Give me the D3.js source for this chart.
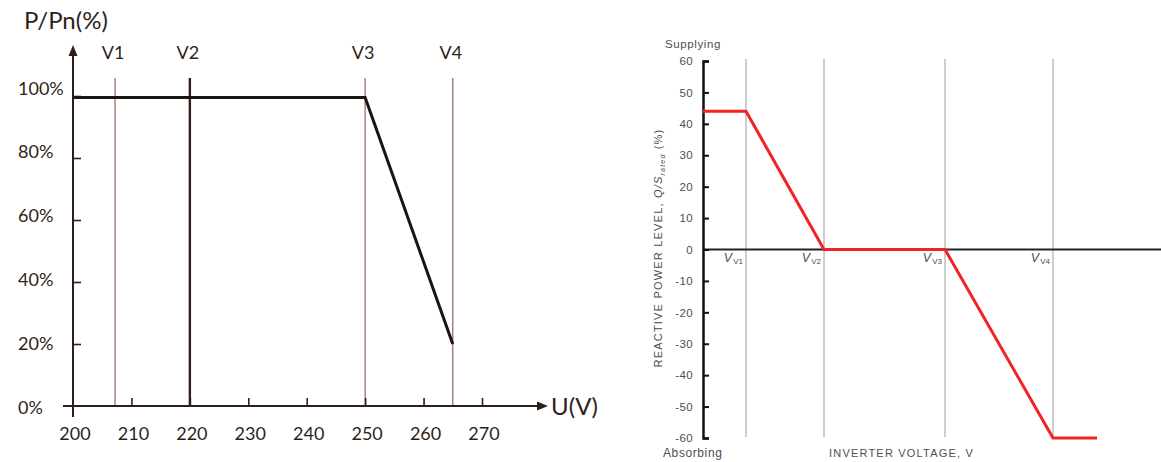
<!DOCTYPE html>
<html>
<head>
<meta charset="utf-8">
<script src="https://d3js.org/d3.v7.min.js"></script>
<style>
  body { margin: 0; background: #fff; }
  svg { display: block; }
</style>
</head>
<body>
<svg id="chart" width="1161" height="462"></svg>
<script>
	// left chart: active power vs voltage
	var leftTicksX = [210, 220, 230, 240, 250, 260, 270];
	var leftTickLabelsX = [200, 210, 220, 230, 240, 250, 260, 270];
	var leftTicksY = [20, 40, 60, 80, 100];
	var leftTickLabelsY = ["0%", "20%", "40%", "60%", "80%", "100%"];
	var leftMarkers = ["V1", "V2", "V3", "V4"];
	var leftMarkerVolts = [207.2, 220, 250, 265];
	var leftCurveU = [200, 250, 265];
	var leftCurveP = [99.5, 99.5, 20];

	// right chart: reactive power vs inverter voltage
	var rightTicksY = [60, 50, 40, 30, 20, 10, 0, -10, -20, -30, -40, -50, -60];
	var rightMarkers = ["V1", "V2", "V3", "V4"];
	var rightMarkerPos = [43, 121, 242, 350];
	var rightCurveV = [0, 43, 121, 242, 350, 394];
	var rightCurveQ = [44, 44, 0, 0, -60, -60];

	var svg = d3.select("#chart");
	var brown = "#2e1f1a";

	function draw_left(){
		var x = d3.scaleLinear().domain([200, 270]).range([73, 482]);
		var y = d3.scaleLinear().domain([0, 100]).range([406, 96]);
		// tick labels sit on a slightly wider spacing than the ticks
		var yLab = d3.scaleLinear().domain([0, 100]).range([407, 88]);
		var g = svg.append("g");
		var font = "Lato, 'Open Sans', sans-serif";

		// marker lines
		leftMarkerVolts.forEach(function(v, i){
			g.append("line").attr("x1", x(v)).attr("x2", x(v)).attr("y1", 78).attr("y2", y(0))
				.style("stroke", i == 1 ? "#33221c" : "#957269")
				.style("stroke-width", i == 1 ? 2.4 : 1.3);
			g.append("text").attr("x", x(v) - 2).attr("y", 59).attr("text-anchor", "middle")
				.style("font-family", font).style("font-size", "18px").style("fill", brown)
				.text(leftMarkers[i]);
		});

		// x ticks (upward)
		var xAxis = d3.axisBottom(x).tickValues(leftTicksX).tickSize(-8).tickFormat("");
		var gx = g.append("g").attr("transform", "translate(0," + y(0) + ")").call(xAxis);
		gx.select(".domain").remove();
		gx.selectAll("line").style("stroke", brown).style("stroke-width", 1.6);

		g.selectAll(".xlab").data(leftTickLabelsX).enter().append("text").attr("class", "xlab")
			.attr("x", function(d){ return x(d) + 2; }).attr("y", 440).attr("text-anchor", "middle")
			.style("font-family", font).style("font-size", "18px").style("fill", brown)
			.text(function(d){ return d; });

		// y ticks (to the right)
		var yAxis = d3.axisRight(y).tickValues(leftTicksY).tickSize(8).tickFormat("");
		var gy = g.append("g").attr("transform", "translate(" + x(200) + ",0)").call(yAxis);
		gy.select(".domain").remove();
		gy.selectAll("line").style("stroke", brown).style("stroke-width", 1.6);

		g.selectAll(".ylab").data(leftTickLabelsY).enter().append("text").attr("class", "ylab")
			.attr("x", 18).attr("y", function(d, i){ return yLab(i * 20) + 6.5; })
			.style("font-family", font).style("font-size", "18px").style("fill", brown)
			.text(function(d){ return d; });

		// axes with arrows
		g.append("line").attr("x1", x(200)).attr("x2", x(200)).attr("y1", 417).attr("y2", 52)
			.style("stroke", brown).style("stroke-width", 2);
		g.append("path").attr("d", "M" + x(200) + ",45 l-4.5,11 l9,0 z").style("fill", brown);
		g.append("line").attr("x1", 63).attr("x2", 541).attr("y1", y(0)).attr("y2", y(0))
			.style("stroke", brown).style("stroke-width", 2);
		g.append("path").attr("d", "M548," + y(0) + " l-11,-4.5 l0,9 z").style("fill", brown);

		g.append("text").attr("x", 551).attr("y", y(0) + 9)
			.style("font-family", font).style("font-size", "24px").style("fill", brown).text("U(V)");
		g.append("text").attr("x", 24).attr("y", 29)
			.style("font-family", font).style("font-size", "24px").style("fill", brown).text("P/Pn(%)");

		// curve
		var pts = leftCurveU.map(function(u, i){ return [x(u), y(leftCurveP[i])]; });
		g.append("path").attr("d", d3.line()(pts))
			.style("fill", "none").style("stroke", "#1c1411").style("stroke-width", 3);
	}

	function draw_right(){
		var x = d3.scaleLinear().domain([0, 458]).range([703, 1161]);
		var y = d3.scaleLinear().domain([-60, 60]).range([438, 61]);
		var g = svg.append("g");
		var font = "'Liberation Sans', Arial, sans-serif";
		var grey = "#4e4e4e";

		// marker lines
		rightMarkerPos.forEach(function(p, i){
			g.append("line").attr("x1", x(p)).attr("x2", x(p)).attr("y1", 59).attr("y2", 437)
				.style("stroke", "#c9c9c9").style("stroke-width", 1.8);
			var t = g.append("text").attr("x", x(p) - 3).attr("y", 262).attr("text-anchor", "end")
				.style("font-family", font).style("fill", grey);
			t.append("tspan").style("font-size", "12.5px").style("font-style", "italic").text("V");
			t.append("tspan").attr("dx", 1).attr("dy", 2).style("font-size", "8px").text("V" + (i + 1));
		});

		// zero line
		g.append("line").attr("x1", x(0)).attr("x2", 1161).attr("y1", y(0)).attr("y2", y(0))
			.style("stroke", "#222").style("stroke-width", 2);

		// y axis
		var yAxis = d3.axisLeft(y).tickValues(rightTicksY).tickSize(-6).tickPadding(10)
			.tickFormat(function(d){ return String(d); });
		var gy = g.append("g").attr("transform", "translate(" + x(0) + ",0)").call(yAxis);
		gy.select(".domain").style("stroke", "#111").style("stroke-width", 2.5);
		gy.selectAll(".tick line").style("stroke", "#111").style("stroke-width", 2);
		gy.selectAll("text").style("font-family", font).style("font-size", "11.5px").style("fill", grey)
			.style("letter-spacing", "0.4px");

		// curve
		var pts = rightCurveV.map(function(v, i){ return [x(v), y(rightCurveQ[i])]; });
		g.append("path").attr("d", d3.line()(pts))
			.style("fill", "none").style("stroke", "#f02424").style("stroke-width", 3);

		// labels
		g.append("text").attr("x", 665).attr("y", 48).style("font-family", font).style("font-size", "11.5px")
			.style("fill", grey).style("letter-spacing", "0.6px").text("Supplying");
		g.append("text").attr("x", 663).attr("y", 457).style("font-family", font).style("font-size", "12px")
			.style("fill", grey).style("letter-spacing", "0.6px").text("Absorbing");
		g.append("text").attr("x", 829).attr("y", 457).style("font-family", font).style("font-size", "11px")
			.style("fill", grey).style("letter-spacing", "1.2px").text("INVERTER VOLTAGE, V");

		var yt = g.append("text").attr("transform", "translate(662,248) rotate(-90)").attr("text-anchor", "middle")
			.style("font-family", font).style("font-size", "11px").style("fill", grey).style("letter-spacing", "1.2px");
		yt.append("tspan").text("REACTIVE POWER LEVEL, ");
		yt.append("tspan").style("font-style", "italic").text("Q/S");
		yt.append("tspan").attr("dy", 3).style("font-size", "7px").style("font-style", "italic").text("rated");
		yt.append("tspan").attr("dy", -3).text(" (%)");
	}

	draw_left();
	draw_right();
</script>
</body>
</html>
